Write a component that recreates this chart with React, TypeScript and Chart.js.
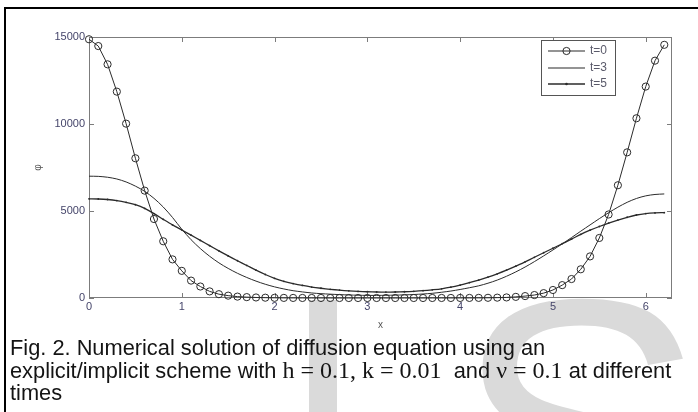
import { useEffect, useRef } from "react";
import { Chart, registerables } from "chart.js";

Chart.register(...registerables);

// ---- data ----
const X = [
  0, 0.1, 0.2, 0.3, 0.4, 0.5, 0.6, 0.7, 0.8, 0.9,
  1.0, 1.1, 1.2, 1.3, 1.4, 1.5, 1.6, 1.7, 1.8, 1.9,
  2.0, 2.1, 2.2, 2.3, 2.4, 2.5, 2.6, 2.7, 2.8, 2.9,
  3.0, 3.1, 3.2, 3.3, 3.4, 3.5, 3.6, 3.7, 3.8, 3.9,
  4.0, 4.1, 4.2, 4.3, 4.4, 4.5, 4.6, 4.7, 4.8, 4.9,
  5.0, 5.1, 5.2, 5.3, 5.4, 5.5, 5.6, 5.7, 5.8, 5.9,
  6.0, 6.1, 6.2,
];
const T0 = [
  14870, 14480, 13430, 11860, 10020, 8030, 6170, 4540, 3260, 2220,
  1560, 1000, 660, 380, 220, 135, 80, 50, 30, 18,
  10, 6, 4, 2, 1, 1, 0, 0, 0, 0,
  0, 0, 0, 0, 0, 0, 0, 1, 2, 2,
  3, 4, 7, 12, 20, 33, 65, 110, 170, 280,
  460, 740, 1090, 1650, 2390, 3450, 4800, 6480, 8370, 10330,
  12150, 13640, 14550,
];
const T3 = [
  7000, 6990, 6940, 6840, 6670, 6430, 6130, 5730, 5230, 4630,
  3950, 3350, 2840, 2400, 2020, 1700, 1420, 1180, 970, 790,
  640, 520, 420, 350, 290, 250, 220, 195, 175, 160,
  150, 150, 155, 165, 180, 200, 230, 270, 330, 400,
  490, 590, 700, 850, 1030, 1250, 1500, 1780, 2090, 2420,
  2760, 3110, 3470, 3840, 4200, 4560, 4900, 5220, 5500, 5720,
  5870, 5950, 5980,
];
const T5 = [
  5700, 5690, 5660, 5600, 5500, 5360, 5150, 4850, 4520, 4200,
  3910, 3610, 3310, 3010, 2710, 2420, 2140, 1870, 1600, 1350,
  1130, 960, 830, 720, 630, 560, 500, 450, 410, 380,
  360, 345, 340, 345, 360, 385, 420, 470, 530, 620,
  740, 880, 1030, 1200, 1390, 1600, 1830, 2080, 2340, 2600,
  2860, 3120, 3380, 3660, 3900, 4110, 4300, 4480, 4640, 4770,
  4850, 4890, 4905,
];
const SERIES_LABELS = ["t=0", "t=3", "t=5"];
const X_TICKS = [0, 1, 2, 3, 4, 5, 6];
const Y_TICKS = [0, 5000, 10000, 15000];
const X_MIN = 0;
const X_MAX = 6.2832;
const Y_MIN = 0;
const Y_MAX = 15000;
const X_TITLE = "x";
const Y_TITLE = "φ";

const LINE = "#2b2b2b";
const TICK_COLOR = "#45456a";
const SANS = "'Liberation Sans', Arial, sans-serif";

const framePlugin = {
  id: "frameTicks",
  beforeDatasetsDraw(chart: any) {
    const { ctx, chartArea: a, scales } = chart;
    ctx.save();
    ctx.strokeStyle = "#7c7c7c";
    ctx.lineWidth = 1;
    ctx.strokeRect(a.left + 0.5, a.top + 0.5, a.right - a.left - 1, a.bottom - a.top - 1);
    const len = 5;
    ctx.beginPath();
    X_TICKS.forEach((v) => {
      const px = Math.round(scales.x.getPixelForValue(v)) + 0.5;
      ctx.moveTo(px, a.bottom);
      ctx.lineTo(px, a.bottom - len);
      ctx.moveTo(px, a.top);
      ctx.lineTo(px, a.top + len);
    });
    Y_TICKS.forEach((v) => {
      const py = Math.round(scales.y.getPixelForValue(v)) + 0.5;
      ctx.moveTo(a.left, py);
      ctx.lineTo(a.left + len, py);
      ctx.moveTo(a.right, py);
      ctx.lineTo(a.right - len, py);
    });
    ctx.stroke();
    ctx.restore();
  },
};

const legendPlugin = {
  id: "insideLegend",
  afterDraw(chart: any) {
    const { ctx, chartArea: a } = chart;
    const bx = a.right - 131;
    const by = a.top + 3;
    const bw = 74;
    const bh = 55;
    ctx.save();
    ctx.fillStyle = "#ffffff";
    ctx.fillRect(bx, by, bw, bh);
    ctx.strokeStyle = "#555555";
    ctx.lineWidth = 1;
    ctx.strokeRect(bx + 0.5, by + 0.5, bw, bh);
    const rows = [by + 11, by + 28, by + 44];
    SERIES_LABELS.forEach((lab, i) => {
      const y = rows[i];
      const x0 = bx + 7;
      const x1 = bx + 44;
      ctx.beginPath();
      ctx.strokeStyle = LINE;
      ctx.lineWidth = i === 2 ? 1.6 : 1.1;
      ctx.moveTo(x0, y);
      ctx.lineTo(x1, y);
      ctx.stroke();
      if (i === 0) {
        ctx.beginPath();
        ctx.lineWidth = 1;
        ctx.arc((x0 + x1) / 2, y, 3.6, 0, Math.PI * 2);
        ctx.stroke();
      }
      if (i === 2) {
        ctx.beginPath();
        ctx.fillStyle = LINE;
        ctx.arc((x0 + x1) / 2, y, 1.3, 0, Math.PI * 2);
        ctx.fill();
      }
      ctx.fillStyle = "#5a5a6a";
      ctx.font = `12px ${SANS}`;
      ctx.textBaseline = "middle";
      ctx.textAlign = "left";
      ctx.fillText(lab, bx + 49, y);
    });
    ctx.restore();
  },
};

export default function App() {
  const ref = useRef<HTMLCanvasElement | null>(null);

  useEffect(() => {
    if (!ref.current) return;
    const mk = (ys: number[]) => X.map((x, i) => ({ x, y: ys[i] }));
    const chart = new Chart(ref.current, {
      type: "line",
      data: {
        datasets: [
          {
            label: SERIES_LABELS[0],
            data: mk(T0),
            borderColor: LINE,
            borderWidth: 1,
            pointRadius: 3.6,
            pointStyle: "circle",
            pointBackgroundColor: "rgba(0,0,0,0)",
            pointBorderColor: LINE,
            pointBorderWidth: 1,
            tension: 0,
            clip: false,
          } as any,
          {
            label: SERIES_LABELS[1],
            data: mk(T3),
            borderColor: LINE,
            borderWidth: 1,
            pointRadius: 0,
            tension: 0.3,
            clip: false,
          } as any,
          {
            label: SERIES_LABELS[2],
            data: mk(T5),
            borderColor: LINE,
            borderWidth: 1.3,
            pointRadius: 0.9,
            pointBorderWidth: 0,
            pointBackgroundColor: LINE,
            tension: 0.3,
            clip: false,
          } as any,
        ],
      },
      options: {
        responsive: false,
        animation: false,
        layout: { padding: { left: 0, top: 37, right: 26, bottom: 0 } },
        plugins: { legend: { display: false }, tooltip: { enabled: false } },
        scales: {
          x: {
            type: "linear",
            min: X_MIN,
            max: X_MAX,
            afterBuildTicks: (s: any) => {
              s.ticks = X_TICKS.map((v) => ({ value: v }));
            },
            afterFit: (s: any) => {
              s.height = 40;
            },
            grid: { display: false, drawTicks: false },
            border: { display: false },
            ticks: {
              color: TICK_COLOR,
              font: { family: SANS, size: 11 },
              padding: 2,
              maxRotation: 0,
              autoSkip: false,
              callback: (v: any) => String(v),
            },
            title: {
              display: true,
              text: X_TITLE,
              color: "#555",
              font: { family: SANS, size: 10 },
              padding: { top: 0, bottom: 7 },
            },
          },
          y: {
            type: "linear",
            min: Y_MIN,
            max: Y_MAX,
            afterBuildTicks: (s: any) => {
              s.ticks = Y_TICKS.map((v) => ({ value: v }));
            },
            afterFit: (s: any) => {
              s.width = 89;
            },
            grid: { display: false, drawTicks: false },
            border: { display: false },
            ticks: {
              color: TICK_COLOR,
              font: { family: SANS, size: 11 },
              padding: 4,
              autoSkip: false,
              callback: (v: any) => String(v),
            },
            title: {
              display: true,
              text: Y_TITLE,
              color: "#555",
              font: { family: SANS, size: 10 },
              padding: { top: 32, bottom: 0 },
            },
          },
        },
      } as any,
      plugins: [framePlugin, legendPlugin],
    });
    return () => chart.destroy();
  }, []);

  const lineStyle: React.CSSProperties = {
    position: "absolute",
    left: 10,
    whiteSpace: "nowrap",
    fontFamily: SANS,
    fontSize: "21.8px",
    lineHeight: "22.5px",
    height: 22.5,
    color: "#141414",
  };
  const math: React.CSSProperties = {
    fontFamily: "'Liberation Serif', 'Times New Roman', serif",
    fontSize: "24px",
    lineHeight: 0,
  };

  return (
    <div
      style={{
        position: "absolute",
        left: 0,
        top: 0,
        width: 698,
        height: 412,
        overflow: "hidden",
        background: "#fff",
      }}
    >
      <div
        style={{
          position: "absolute",
          left: 4,
          top: 7,
          width: 800,
          height: 600,
          borderTop: "2px solid #000",
          borderLeft: "2px solid #000",
        }}
      />
      <div
        style={{
          position: "absolute",
          left: 309,
          top: 300,
          width: 28,
          height: 130,
          background: "#dadada",
        }}
      />
      <div
        style={{
          position: "absolute",
          left: 453,
          top: 243,
          fontFamily: SANS,
          fontSize: "380px",
          lineHeight: "380px",
          color: "#dadada",
        }}
      >
        S
      </div>
      <canvas
        ref={ref}
        width={698}
        height={338}
        style={{ position: "absolute", left: 0, top: 0, width: 698, height: 338 }}
      />
      <div style={{ ...lineStyle, top: 337 }}>
        Fig. 2. Numerical solution of diffusion equation using an
      </div>
      <div style={{ ...lineStyle, top: 359.5 }}>
        explicit/implicit scheme with <span style={math}>h = 0.1, k = 0.01</span>
        {"\u00a0\u00a0"}and <span style={math}>ν = 0.1</span> at different
      </div>
      <div style={{ ...lineStyle, top: 382 }}>times</div>
    </div>
  );
}
